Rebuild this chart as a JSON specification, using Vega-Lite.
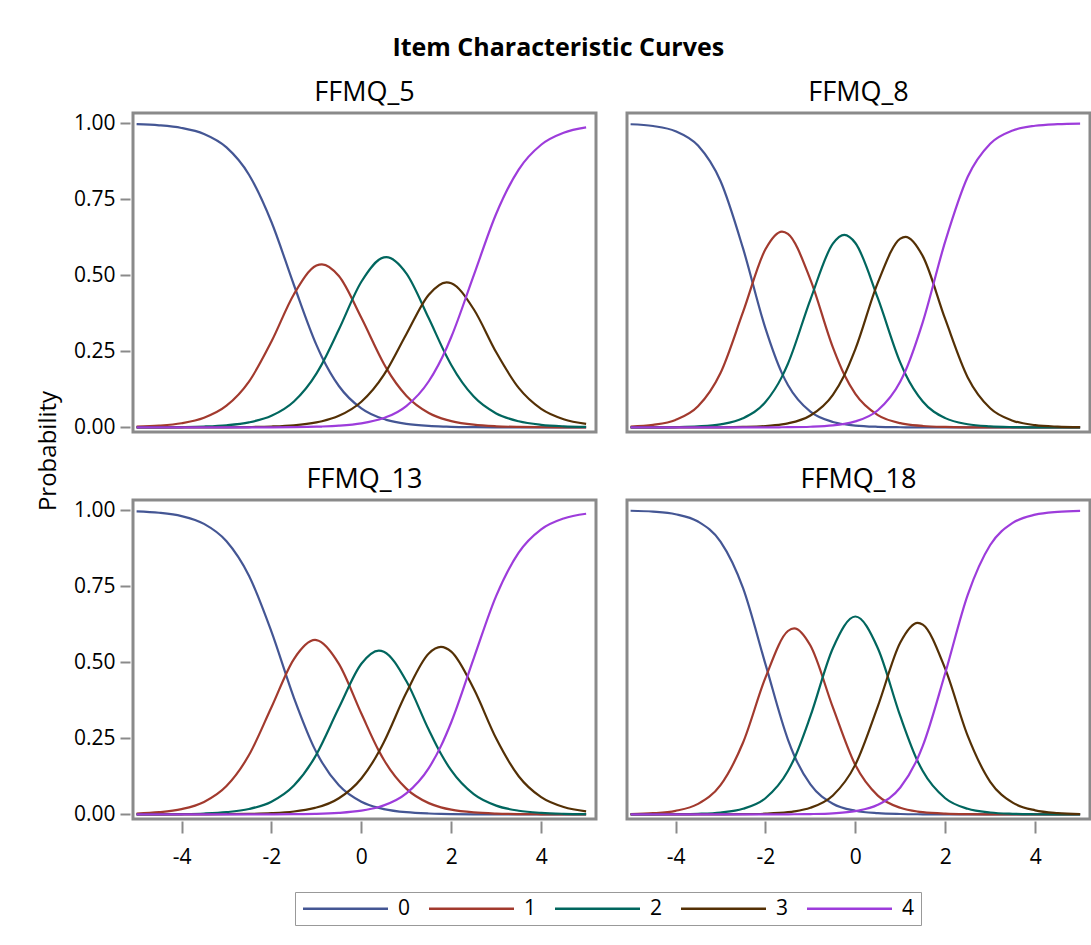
{
  "$schema": "https://vega.github.io/schema/vega-lite/v6.json",
  "padding": {"left": 37, "top": 35, "right": 4, "bottom": 10},
  "background": "white",
  "title": {"text": "Item Characteristic Curves", "font": "Open Sans", "fontSize": 25, "fontWeight": "bold", "color": "black", "anchor": "middle", "offset": 17, "dx": -6},
  "config": {
    "view": {"stroke": "#8a8a8a", "strokeWidth": 3},
    "font": "Open Sans"
  },
  "datasets": {
    "icc": [
      {"item":"FFMQ_5","theta":-5,"0":0.9973,"1":0.0025,"2":0.0002,"3":0,"4":0},
      {"item":"FFMQ_5","theta":-4.5,"0":0.9935,"1":0.0059,"2":0.0005,"3":0,"4":0},
      {"item":"FFMQ_5","theta":-4,"0":0.9848,"1":0.0138,"2":0.0013,"3":0.0001,"4":0},
      {"item":"FFMQ_5","theta":-3.5,"0":0.9649,"1":0.0318,"2":0.003,"3":0.0002,"4":0},
      {"item":"FFMQ_5","theta":-3,"0":0.9208,"1":0.0714,"2":0.0071,"3":0.0005,"4":0.0001},
      {"item":"FFMQ_5","theta":-2.5,"0":0.8311,"1":0.1507,"2":0.0167,"3":0.0013,"4":0.0002},
      {"item":"FFMQ_5","theta":-2,"0":0.6756,"1":0.2825,"2":0.0384,"3":0.003,"4":0.0004},
      {"item":"FFMQ_5","theta":-1.5,"0":0.4684,"1":0.438,"2":0.0855,"3":0.0071,"4":0.001},
      {"item":"FFMQ_5","theta":-1,"0":0.2716,"1":0.5322,"2":0.1771,"3":0.0166,"4":0.0024},
      {"item":"FFMQ_5","theta":-0.877,"0":0.2318,"1":0.5365,"2":0.2083,"3":0.0204,"4":0.003},
      {"item":"FFMQ_5","theta":-0.5,"0":0.1363,"1":0.4979,"2":0.3219,"3":0.0381,"4":0.0057},
      {"item":"FFMQ_5","theta":0,"0":0.0626,"1":0.3606,"2":0.479,"3":0.0844,"4":0.0134},
      {"item":"FFMQ_5","theta":0.5,"0":0.0275,"1":0.2095,"2":0.5592,"3":0.1728,"4":0.0311},
      {"item":"FFMQ_5","theta":0.556,"0":0.025,"1":0.1949,"2":0.5601,"3":0.1859,"4":0.0341},
      {"item":"FFMQ_5","theta":1,"0":0.0118,"1":0.1043,"2":0.5068,"3":0.3066,"4":0.0704},
      {"item":"FFMQ_5","theta":1.5,"0":0.005,"1":0.0476,"2":0.3588,"3":0.4366,"4":0.1519},
      {"item":"FFMQ_5","theta":1.896,"0":0.0026,"1":0.0248,"2":0.234,"3":0.4773,"4":0.2614},
      {"item":"FFMQ_5","theta":2,"0":0.0021,"1":0.0209,"2":0.2053,"3":0.4744,"4":0.2973},
      {"item":"FFMQ_5","theta":2.5,"0":0.0009,"1":0.009,"2":0.1014,"3":0.3887,"4":0.5},
      {"item":"FFMQ_5","theta":3,"0":0.0004,"1":0.0038,"2":0.0461,"3":0.247,"4":0.7027},
      {"item":"FFMQ_5","theta":3.5,"0":0.0002,"1":0.0016,"2":0.0202,"3":0.1299,"4":0.8481},
      {"item":"FFMQ_5","theta":4,"0":0.0001,"1":0.0007,"2":0.0087,"3":0.061,"4":0.9296},
      {"item":"FFMQ_5","theta":4.5,"0":0,"1":0.0003,"2":0.0037,"3":0.0271,"4":0.9689},
      {"item":"FFMQ_5","theta":5,"0":0,"1":0.0001,"2":0.0016,"3":0.0117,"4":0.9866},

      {"item":"FFMQ_8","theta":-5,"0":0.997,"1":0.0028,"2":0.0001,"3":0,"4":0},
      {"item":"FFMQ_8","theta":-4.5,"0":0.9912,"1":0.0084,"2":0.0004,"3":0,"4":0},
      {"item":"FFMQ_8","theta":-4,"0":0.9742,"1":0.0245,"2":0.0012,"3":0.0001,"4":0},
      {"item":"FFMQ_8","theta":-3.5,"0":0.927,"1":0.0693,"2":0.0035,"3":0.0002,"4":0},
      {"item":"FFMQ_8","theta":-3,"0":0.8103,"1":0.1789,"2":0.0103,"3":0.0005,"4":0},
      {"item":"FFMQ_8","theta":-2.5,"0":0.5895,"1":0.3789,"2":0.03,"3":0.0016,"4":0.0001},
      {"item":"FFMQ_8","theta":-2,"0":0.3256,"1":0.5859,"2":0.0836,"3":0.0046,"4":0.0003},
      {"item":"FFMQ_8","theta":-1.632,"0":0.1779,"1":0.6441,"2":0.1671,"3":0.0102,"4":0.0006},
      {"item":"FFMQ_8","theta":-1.5,"0":0.1397,"1":0.6364,"2":0.2096,"3":0.0136,"4":0.0008},
      {"item":"FFMQ_8","theta":-1,"0":0.0518,"1":0.4863,"2":0.4204,"3":0.0392,"4":0.0023},
      {"item":"FFMQ_8","theta":-0.5,"0":0.018,"1":0.2634,"2":0.6044,"3":0.1074,"4":0.0067},
      {"item":"FFMQ_8","theta":-0.245,"0":0.0104,"1":0.173,"2":0.6332,"3":0.1718,"4":0.0117},
      {"item":"FFMQ_8","theta":0,"0":0.0061,"1":0.1102,"2":0.6066,"3":0.2573,"4":0.0198},
      {"item":"FFMQ_8","theta":0.5,"0":0.0021,"1":0.0403,"2":0.425,"3":0.4761,"4":0.0566},
      {"item":"FFMQ_8","theta":1,"0":0.0007,"1":0.014,"2":0.2131,"3":0.6209,"4":0.1513},
      {"item":"FFMQ_8","theta":1.1155,"0":0.0005,"1":0.0109,"2":0.1751,"3":0.6269,"4":0.1866},
      {"item":"FFMQ_8","theta":1.5,"0":0.0002,"1":0.0048,"2":0.0853,"3":0.5633,"4":0.3465},
      {"item":"FFMQ_8","theta":2,"0":0.0001,"1":0.0016,"2":0.0306,"3":0.3558,"4":0.612},
      {"item":"FFMQ_8","theta":2.5,"0":0,"1":0.0005,"2":0.0105,"3":0.1646,"4":0.8243},
      {"item":"FFMQ_8","theta":3,"0":0,"1":0.0002,"2":0.0036,"3":0.0631,"4":0.9331},
      {"item":"FFMQ_8","theta":3.5,"0":0,"1":0.0001,"2":0.0012,"3":0.0223,"4":0.9765},
      {"item":"FFMQ_8","theta":4,"0":0,"1":0,"2":0.0004,"3":0.0076,"4":0.992},
      {"item":"FFMQ_8","theta":4.5,"0":0,"1":0,"2":0.0001,"3":0.0026,"4":0.9973},
      {"item":"FFMQ_8","theta":5,"0":0,"1":0,"2":0,"3":0.0009,"4":0.9991},

      {"item":"FFMQ_13","theta":-5,"0":0.9967,"1":0.003,"2":0.0002,"3":0,"4":0},
      {"item":"FFMQ_13","theta":-4.5,"0":0.9921,"1":0.0073,"2":0.0005,"3":0.0001,"4":0},
      {"item":"FFMQ_13","theta":-4,"0":0.9811,"1":0.0175,"2":0.0013,"3":0.0001,"4":0},
      {"item":"FFMQ_13","theta":-3.5,"0":0.9555,"1":0.0411,"2":0.0031,"3":0.0003,"4":0},
      {"item":"FFMQ_13","theta":-3,"0":0.8985,"1":0.0933,"2":0.0075,"3":0.0007,"4":0.0001},
      {"item":"FFMQ_13","theta":-2.5,"0":0.7851,"1":0.1952,"2":0.0179,"3":0.0017,"4":0.0002},
      {"item":"FFMQ_13","theta":-2,"0":0.6012,"1":0.3524,"2":0.042,"3":0.004,"4":0.0004},
      {"item":"FFMQ_13","theta":-1.5,"0":0.3836,"1":0.511,"2":0.095,"3":0.0096,"4":0.0009},
      {"item":"FFMQ_13","theta":-1.03,"0":0.2131,"1":0.5738,"2":0.1894,"3":0.0217,"4":0.002},
      {"item":"FFMQ_13","theta":-1,"0":0.2043,"1":0.5735,"2":0.1972,"3":0.0228,"4":0.0021},
      {"item":"FFMQ_13","theta":-0.5,"0":0.0958,"1":0.4952,"2":0.3505,"3":0.0533,"4":0.0052},
      {"item":"FFMQ_13","theta":0,"0":0.0419,"1":0.3317,"2":0.4956,"3":0.1183,"4":0.0125},
      {"item":"FFMQ_13","theta":0.389,"0":0.0215,"1":0.209,"2":0.539,"3":0.206,"4":0.0245},
      {"item":"FFMQ_13","theta":0.5,"0":0.0177,"1":0.1798,"2":0.5353,"3":0.2375,"4":0.0297},
      {"item":"FFMQ_13","theta":1,"0":0.0074,"1":0.0848,"2":0.4387,"3":0.4,"4":0.069},
      {"item":"FFMQ_13","theta":1.5,"0":0.0031,"1":0.0372,"2":0.2782,"3":0.5293,"4":0.1523},
      {"item":"FFMQ_13","theta":1.77,"0":0.0019,"1":0.0234,"2":0.1993,"3":0.5508,"4":0.2246},
      {"item":"FFMQ_13","theta":2,"0":0.0013,"1":0.0157,"2":0.1446,"3":0.5351,"4":0.3032},
      {"item":"FFMQ_13","theta":2.5,"0":0.0005,"1":0.0066,"2":0.0666,"3":0.413,"4":0.5133},
      {"item":"FFMQ_13","theta":3,"0":0.0002,"1":0.0027,"2":0.0289,"3":0.2495,"4":0.7187},
      {"item":"FFMQ_13","theta":3.5,"0":0.0001,"1":0.0011,"2":0.0122,"3":0.1257,"4":0.861},
      {"item":"FFMQ_13","theta":4,"0":0,"1":0.0005,"2":0.0051,"3":0.0569,"4":0.9375},
      {"item":"FFMQ_13","theta":4.5,"0":0,"1":0.0002,"2":0.0021,"3":0.0245,"4":0.9732},
      {"item":"FFMQ_13","theta":5,"0":0,"1":0.0001,"2":0.0009,"3":0.0103,"4":0.9888},

      {"item":"FFMQ_18","theta":-5,"0":0.9986,"1":0.0014,"2":0.0001,"3":0,"4":0},
      {"item":"FFMQ_18","theta":-4.5,"0":0.9957,"1":0.004,"2":0.0002,"3":0,"4":0},
      {"item":"FFMQ_18","theta":-4,"0":0.9873,"1":0.0119,"2":0.0007,"3":0,"4":0},
      {"item":"FFMQ_18","theta":-3.5,"0":0.9631,"1":0.0347,"2":0.0021,"3":0.0001,"4":0},
      {"item":"FFMQ_18","theta":-3,"0":0.8973,"1":0.0962,"2":0.0063,"3":0.0003,"4":0},
      {"item":"FFMQ_18","theta":-2.5,"0":0.745,"1":0.2356,"2":0.0185,"3":0.0008,"4":0},
      {"item":"FFMQ_18","theta":-2,"0":0.4943,"1":0.4498,"2":0.0533,"3":0.0025,"4":0.0001},
      {"item":"FFMQ_18","theta":-1.5,"0":0.2464,"1":0.6032,"2":0.1426,"3":0.0074,"4":0.0004},
      {"item":"FFMQ_18","theta":-1.36,"0":0.1939,"1":0.6121,"2":0.1833,"3":0.0101,"4":0.0006},
      {"item":"FFMQ_18","theta":-1,"0":0.0986,"1":0.5553,"2":0.323,"3":0.0219,"4":0.0012},
      {"item":"FFMQ_18","theta":-0.5,"0":0.0353,"1":0.352,"2":0.5467,"3":0.0624,"4":0.0036},
      {"item":"FFMQ_18","theta":0,"0":0.0121,"1":0.1624,"2":0.6509,"3":0.1638,"4":0.0108},
      {"item":"FFMQ_18","theta":0.5,"0":0.0041,"1":0.062,"2":0.5467,"3":0.3557,"4":0.0316},
      {"item":"FFMQ_18","theta":1,"0":0.0014,"1":0.0218,"2":0.323,"3":0.5652,"4":0.0887},
      {"item":"FFMQ_18","theta":1.3865,"0":0.0006,"1":0.0095,"2":0.175,"3":0.6299,"4":0.185},
      {"item":"FFMQ_18","theta":1.5,"0":0.0005,"1":0.0074,"2":0.1426,"3":0.6241,"4":0.2255},
      {"item":"FFMQ_18","theta":2,"0":0.0002,"1":0.0025,"2":0.0533,"3":0.4788,"4":0.4653},
      {"item":"FFMQ_18","theta":2.5,"0":0.0001,"1":0.0008,"2":0.0185,"3":0.2583,"4":0.7223},
      {"item":"FFMQ_18","theta":3,"0":0,"1":0.0003,"2":0.0063,"3":0.1074,"4":0.886},
      {"item":"FFMQ_18","theta":3.5,"0":0,"1":0.0001,"2":0.0021,"3":0.039,"4":0.9588},
      {"item":"FFMQ_18","theta":4,"0":0,"1":0,"2":0.0007,"3":0.0135,"4":0.9858},
      {"item":"FFMQ_18","theta":4.5,"0":0,"1":0,"2":0.0002,"3":0.0045,"4":0.9952},
      {"item":"FFMQ_18","theta":5,"0":0,"1":0,"2":0.0001,"3":0.0015,"4":0.9984}
    ],
    "ylab": [{"t": "Probability"}]
  },
  "hconcat": [
    {
      "data": {"name": "ylab"},
      "width": 22,
      "height": 676,
      "view": {"stroke": null},
      "mark": {"type": "text", "angle": 270, "font": "Open Sans", "fontSize": 24, "color": "black", "baseline": "middle", "align": "center"},
      "encoding": {"text": {"field": "t", "type": "nominal"}}
    },
    {
      "data": {"name": "icc"},
      "transform": [{"fold": ["0", "1", "2", "3", "4"], "as": ["cat", "p"]}],
      "facet": {
        "field": "item", "type": "nominal",
        "sort": ["FFMQ_5", "FFMQ_8", "FFMQ_13", "FFMQ_18"],
        "header": {"title": null, "labelFontSize": 27, "labelFont": "Open Sans", "labelColor": "black", "labelPadding": 6}
      },
      "columns": 2,
      "spacing": {"column": 26, "row": 30},
      "spec": {
        "width": 463,
        "height": 319,
        "mark": {"type": "line", "interpolate": "monotone", "strokeWidth": 2.2},
        "encoding": {
          "x": {
            "field": "theta", "type": "quantitative",
            "scale": {"domain": [-5.08, 5.22], "nice": false, "zero": false},
            "axis": {"values": [-4, -2, 0, 2, 4], "labelExpr": "replace(datum.label, '−', '-')", "title": null, "grid": false, "domain": false, "tickSize": 12, "tickColor": "#8a8a8a", "tickWidth": 2, "labelFontSize": 21, "labelFont": "Open Sans", "labelColor": "black", "labelPadding": 13}
          },
          "y": {
            "field": "p", "type": "quantitative",
            "scale": {"domain": [-0.015, 1.034], "nice": false, "zero": false},
            "axis": {"values": [0, 0.25, 0.5, 0.75, 1], "format": ".2f", "title": null, "grid": false, "domain": false, "tickSize": 10, "tickColor": "#8a8a8a", "tickWidth": 2, "labelFontSize": 21, "labelFont": "Open Sans", "labelColor": "black", "labelPadding": 5}
          },
          "color": {
            "field": "cat", "type": "nominal",
            "scale": {"domain": ["0", "1", "2", "3", "4"], "range": ["#445694", "#A23A2E", "#01665E", "#543005", "#9D3CDB"]},
            "legend": {"title": null, "orient": "none", "legendX": 257, "legendY": 779, "direction": "horizontal", "symbolType": "M-1,0H9", "symbolSize": 289, "symbolStrokeWidth": 2.5, "labelFontSize": 21, "labelFont": "Open Sans", "labelColor": "black", "strokeColor": "#999999", "padding": 6, "columnPadding": 13, "labelOffset": 76}
          }
        }
      }
    }
  ],
  "spacing": 12
}
